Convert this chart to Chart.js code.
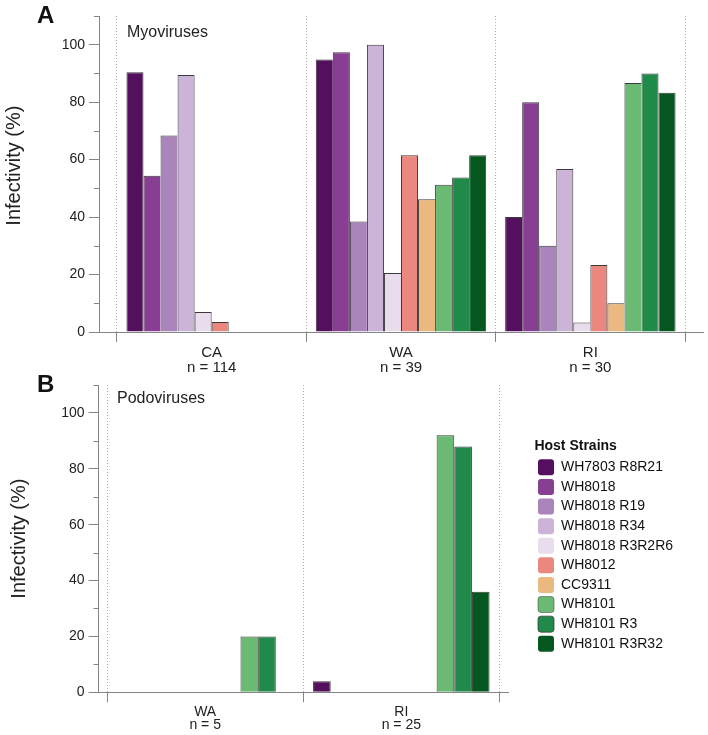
<!DOCTYPE html>
<html><head><meta charset="utf-8">
<script src="https://cdn.jsdelivr.net/npm/chart.js@4/dist/chart.umd.min.js"></script>
<style>
html,body{margin:0;padding:0;background:#fff;}
#wrap{position:relative;width:708px;height:735px;font-family:'Liberation Sans',Arial,Helvetica,sans-serif;color:#111;}
canvas{position:absolute;left:0;}
#cA{top:0;}
#cB{top:372px;}
.lab{position:absolute;font-weight:bold;font-size:24px;line-height:1;}
.ann{position:absolute;font-size:16px;line-height:1;color:#222;}
</style></head><body>
<div id="wrap">
<canvas id="cA" width="708" height="372"></canvas>
<canvas id="cB" width="708" height="363"></canvas>
<div class="lab" style="left:37px;top:3px">A</div>
<div class="lab" style="left:37px;top:372px">B</div>
<div class="ann" style="left:127px;top:24px">Myoviruses</div>
<div class="ann" style="left:117px;top:390px">Podoviruses</div>
</div>
<script>
// ---- data ----
const strains = ['WH7803 R8R21','WH8018','WH8018 R19','WH8018 R34','WH8018 R3R2R6','WH8012','CC9311','WH8101','WH8101 R3','WH8101 R3R32'];
const strainColors = ['#54105e','#883e93','#a985bb','#cbb4d8','#e9dcec','#ea877e','#ebb87f','#6aba74','#1f8a4a','#03571f'];

const myoSites = ['CA','WA','RI'];
const myoN = ['n = 114','n = 39','n = 30'];
const myoCA = [90.4, 54.4, 68.4, 89.5, 7.0, 3.5, 0, 0, 0, 0];
const myoWA = [94.9, 97.4, 38.5, 100, 20.5, 61.5, 46.2, 51.3, 53.8, 61.5];
const myoRI = [40.0, 80.0, 30.0, 56.7, 3.3, 23.3, 10.0, 86.7, 90.0, 83.3];

const podoSites = ['WA','RI'];
const podoN = ['n = 5','n = 25'];
const podoWA = [0, 0, 0, 0, 0, 0, 0, 20, 20, 0];
const podoRI = [4, 0, 0, 0, 0, 0, 0, 92, 88, 36];

const yTicks = [0, 20, 40, 60, 80, 100];
const yMinorTicks = [10, 30, 50, 70, 90, 110];
const yMax = 110;

// ---- chart ----
Chart.defaults.font.family = "'Liberation Sans', Arial, Helvetica, sans-serif";
Chart.defaults.color = '#222';

const AXIS = '#858585';

const minorTicks = {
  id: 'minorTicks',
  afterDraw(chart) {
    const y = chart.scales.y, ctx = chart.ctx;
    ctx.save();
    ctx.strokeStyle = AXIS; ctx.lineWidth = 1;
    yMinorTicks.forEach(v => {
      const py = Math.round(y.getPixelForValue(v)) + 0.5;
      ctx.beginPath(); ctx.moveTo(y.right - 5, py); ctx.lineTo(y.right, py); ctx.stroke();
    });
    ctx.restore();
  }
};

// moves the legend box a fixed gap away from the plot area
const legendGap = {
  id: 'legendGap',
  afterLayout(chart, args, opts) {
    const lg = chart.legend;
    if (lg && opts.gap) { lg.left += opts.gap; lg.right += opts.gap; }
  }
};

function barBorder(c) {
  if (c.type !== 'data') return 1;
  const v = c.raw ? c.raw.y : 0;
  if (!v) return 0;
  const next = c.chart.data.datasets[c.datasetIndex + 1];
  const nv = next ? next.data[c.dataIndex].y : 0;
  return {top: 1, left: 1, right: (nv && nv >= v) ? 0 : 1, bottom: 0};
}

function makeChart(id, sites, nLabels, siteValues, cfg) {
  const datasets = strains.map((s, i) => ({
    label: s,
    data: siteValues.map((vals, k) => ({x: k, y: vals[i]})),
    backgroundColor: strainColors[i],
    borderColor: '#3a3a3a',
    borderWidth: barBorder,
    categoryPercentage: 0.9,
    barPercentage: 1.0
  }));
  const xMin = -0.5 - cfg.xPad, xMax = sites.length - 0.5 + cfg.xPad;
  const scales = {
    y: {
      type: 'linear', position: 'left', min: 0, max: yMax,
      afterBuildTicks: s => { s.ticks = yTicks.map(v => ({value: v})); },
      afterFit: s => { s.width = cfg.yWidth; },
      ticks: {font: {size: 14}, color: '#222', padding: 4},
      grid: {display: true, drawOnChartArea: false, drawTicks: true, tickLength: 10, tickColor: AXIS},
      border: {display: true, color: AXIS, width: 1},
      title: {display: true, text: cfg.yTitle, font: {size: 20}, color: '#222', padding: {top: cfg.titlePad, bottom: 0}}
    },
    x: {
      type: 'linear', position: 'bottom', min: xMin, max: xMax, weight: 0, offset: false,
      afterBuildTicks: s => { s.ticks = sites.map((_, k) => ({value: k - 0.5})).concat([{value: sites.length - 0.5}]); },
      afterFit: s => { s.height = 10; },
      ticks: {display: false},
      grid: {display: true, offset: false, drawOnChartArea: true, drawTicks: true, tickLength: 10, color: '#b0b0b0', lineWidth: 1, tickColor: AXIS, tickBorderDash: []},
      border: {display: true, color: AXIS, width: 1, dash: [1, 2]}
    },
    xl: {
      type: 'linear', position: 'bottom', min: xMin, max: xMax, weight: 1, display: true, offset: false,
      afterBuildTicks: s => { s.ticks = sites.map((_, k) => ({value: k})); },
      afterFit: s => { s.height = cfg.xlHeight; },
      ticks: {
        display: true, maxRotation: 0, autoSkip: false, padding: cfg.xlPad,
        font: {size: cfg.xFont, lineHeight: cfg.xLine}, color: '#222',
        callback: v => { const k = Math.round(v); return [sites[k], nLabels[k]]; }
      },
      grid: {display: false, drawTicks: false, offset: false},
      border: {display: false}
    }
  };
  const chart = new Chart(document.getElementById(id), {
    type: 'bar',
    data: {datasets},
    options: {
      responsive: false, animation: false, maintainAspectRatio: false,
      layout: {padding: Object.assign({}, cfg.padding)},
      scales,
      plugins: {
        tooltip: {enabled: false},
        legendGap: {gap: cfg.legendGap || 0},
        legend: cfg.legend ? {
          display: true, position: 'right', fullSize: false, align: 'center',
          title: {display: true, text: 'Host Strains', position: 'start', color: '#111',
                  font: {size: 14, weight: 'bold'}, padding: {top: 17, bottom: 0}},
          labels: {boxWidth: 16, boxHeight: 16, padding: 3.6, color: '#111', font: {size: 14},
                   useBorderRadius: true, borderRadius: 3}
        } : {display: false}
      }
    },
    plugins: [minorTicks, legendGap]
  });
  if (cfg.areaRight) {
    const diff = cfg.areaRight - chart.chartArea.right;
    chart.options.layout.padding.right = Math.max(0, cfg.padding.right - diff);
    chart.update();
  }
  return chart;
}

makeChart('cA', myoSites, myoN, [myoCA, myoWA, myoRI], {
  xPad: 0.095, yWidth: 99, titlePad: 2, xlHeight: 30, xlPad: 3, xFont: 15, xLine: 1.0,
  yTitle: '   Infectivity (%)',
  padding: {top: 16, left: 0, right: 5, bottom: 0}, legend: false
});
makeChart('cB', podoSites, podoN, [podoWA, podoRI], {
  xPad: 0.044, yWidth: 98.5, titlePad: 7, xlHeight: 32.7, xlPad: 3, xFont: 14, xLine: 0.95,
  yTitle: 'Infectivity (%)',
  padding: {top: 13, left: 0, right: 10, bottom: 0}, legend: true, legendGap: 26.4, areaRight: 508
});
</script>
</body></html>
